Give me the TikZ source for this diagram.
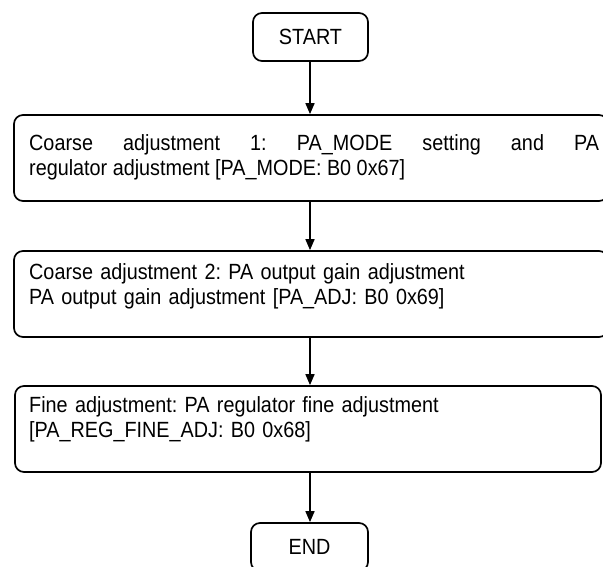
\documentclass[tikz,border=0pt]{standalone}
\usepackage{fontspec}
\setmainfont[FakeStretch=0.9]{Liberation Sans}
\usetikzlibrary{arrows.meta}
\begin{document}
\frenchspacing
\begin{tikzpicture}[x=1pt,y=1pt,
  box/.style={draw, line width=1.7pt, rounded corners=9pt, inner sep=0pt},
  txt/.style={inner sep=0pt, anchor=base west, font=\fontsize{22}{24.5}\selectfont},
  arr/.style={line width=1.6pt, -{Triangle[length=11pt,width=9pt]}}]
\useasboundingbox (0,0) rectangle (603,567);
\node[box, minimum width=115pt, minimum height=48pt, font=\fontsize{22}{24}\selectfont] (start) at (310.5,530) {START};
\node[box, minimum width=594pt, minimum height=86pt] (b1) at (311,409) {};
\node[box, minimum width=594pt, minimum height=86pt] (b2) at (311,273) {};
\node[box, minimum width=586pt, minimum height=86pt] (b3) at (308,138) {};
\node[box, minimum width=117pt, minimum height=48pt, font=\fontsize{22}{24}\selectfont] (end) at (309.5,20) {END};
\node[txt, text width=570pt, align=justify] (t1) at (29,416) {Coarse adjustment 1: PA\_MODE setting and PA\linebreak regulator adjustment [PA\_MODE: B0 0x67]};
\node[txt, text width=560pt, align=left] (t2) at (29,287) {Coarse adjustment 2: PA output gain adjustment\\PA output gain adjustment [PA\_ADJ: B0 0x69]};
\node[txt, text width=560pt, align=left] (t3) at (29,154) {Fine adjustment: PA regulator fine adjustment\\{}[PA\_REG\_FINE\_ADJ: B0 0x68]};
\draw[arr] (start.south -| 310,0) -- (310,0 |- b1.north);
\draw[arr] (b1.south -| 310,0) -- (310,0 |- b2.north);
\draw[arr] (b2.south -| 310,0) -- (310,0 |- b3.north);
\draw[arr] (b3.south -| 310,0) -- (310,0 |- end.north);
\end{tikzpicture}
\end{document}
